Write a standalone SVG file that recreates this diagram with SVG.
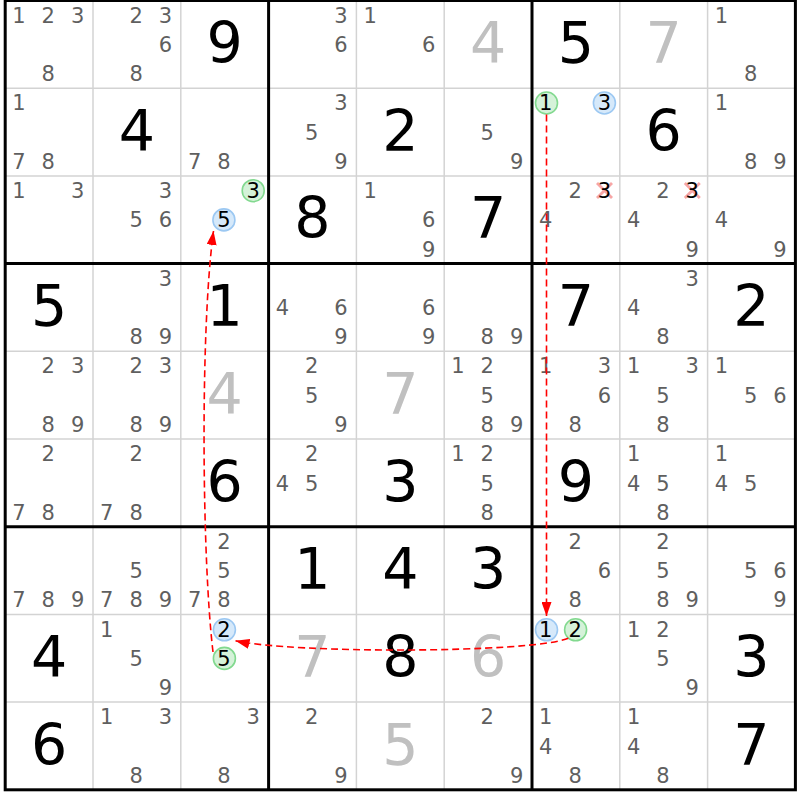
<svg xmlns="http://www.w3.org/2000/svg" width="800" height="800" viewBox="0 0 800 800">
<style>
.c{font-family:"DejaVu Sans",Verdana,sans-serif;font-size:21px;fill:#5f5f5f;text-anchor:middle}
.k{font-family:"DejaVu Sans",Verdana,sans-serif;font-size:21px;fill:#000;text-anchor:middle}
.b{font-family:"DejaVu Sans",Verdana,sans-serif;font-size:57px;fill:#000;text-anchor:middle}
.g{font-family:"DejaVu Sans",Verdana,sans-serif;font-size:57px;fill:#c0c0c0;text-anchor:middle}
.thin{stroke:#d3d3d3;stroke-width:1.5}
.thick{stroke:#000;stroke-width:3;fill:none}
.cg{fill:#d5f2d9;stroke:#82d98f;stroke-width:1.6}
.cb{fill:#d6e9fa;stroke:#9cc8f2;stroke-width:1.6}
.x{stroke:#f7a6a6;stroke-width:2.8}
.link{fill:none;stroke:#f00;stroke-width:1.6;stroke-dasharray:7 4;marker-end:url(#ah)}
</style>
<defs>
<marker id="ah" markerUnits="userSpaceOnUse" markerWidth="14" markerHeight="10" refX="14" refY="5" orient="auto">
<path d="M0,0 L14,5 L0,10 z" fill="#f00"/>
</marker>
</defs>
<rect x="0" y="0" width="800" height="800" fill="#fff"/>
<g id="grid">
<line class="thin" x1="93.0" y1="0.5" x2="93.0" y2="789.8"/>
<line class="thin" x1="180.8" y1="0.5" x2="180.8" y2="789.8"/>
<line class="thin" x1="356.4" y1="0.5" x2="356.4" y2="789.8"/>
<line class="thin" x1="444.2" y1="0.5" x2="444.2" y2="789.8"/>
<line class="thin" x1="619.8" y1="0.5" x2="619.8" y2="789.8"/>
<line class="thin" x1="707.6" y1="0.5" x2="707.6" y2="789.8"/>
<line class="thin" x1="5.2" y1="88.2" x2="795.4" y2="88.2"/>
<line class="thin" x1="5.2" y1="175.9" x2="795.4" y2="175.9"/>
<line class="thin" x1="5.2" y1="351.3" x2="795.4" y2="351.3"/>
<line class="thin" x1="5.2" y1="439.0" x2="795.4" y2="439.0"/>
<line class="thin" x1="5.2" y1="614.4" x2="795.4" y2="614.4"/>
<line class="thin" x1="5.2" y1="702.1" x2="795.4" y2="702.1"/>
<line class="thick" x1="268.6" y1="0.5" x2="268.6" y2="789.8"/>
<line class="thick" x1="532.0" y1="0.5" x2="532.0" y2="789.8"/>
<line class="thick" x1="5.2" y1="263.6" x2="795.4" y2="263.6"/>
<line class="thick" x1="5.2" y1="526.7" x2="795.4" y2="526.7"/>
<rect class="thick" x="5.2" y="0.5" width="790.2" height="789.3"/>
</g>

<!-- row 0 -->
<g id="r0c0" transform="translate(5.2,0.5)"><text class="c" x="13.8" y="22.2">1</text><text class="c" x="43.1" y="22.2">2</text><text class="c" x="72.4" y="22.2">3</text><text class="c" x="43.1" y="80.7">8</text></g>
<g id="r0c1" transform="translate(93,0.5)"><text class="c" x="43.1" y="22.2">2</text><text class="c" x="72.4" y="22.2">3</text><text class="c" x="72.4" y="51.5">6</text><text class="c" x="43.1" y="80.7">8</text></g>
<g id="r0c2" transform="translate(180.8,0.5)"><text class="b" x="43.9" y="62.5">9</text></g>
<g id="r0c3" transform="translate(268.6,0.5)"><text class="c" x="72.4" y="22.2">3</text><text class="c" x="72.4" y="51.5">6</text></g>
<g id="r0c4" transform="translate(356.4,0.5)"><text class="c" x="13.8" y="22.2">1</text><text class="c" x="72.4" y="51.5">6</text></g>
<g id="r0c5" transform="translate(444.2,0.5)"><text class="g" x="43.9" y="62.5">4</text></g>
<g id="r0c6" transform="translate(532,0.5)"><text class="b" x="43.9" y="62.5">5</text></g>
<g id="r0c7" transform="translate(619.8,0.5)"><text class="g" x="43.9" y="62.5">7</text></g>
<g id="r0c8" transform="translate(707.6,0.5)"><text class="c" x="13.8" y="22.2">1</text><text class="c" x="43.1" y="80.7">8</text></g>

<!-- row 1 -->
<g id="r1c0" transform="translate(5.2,88.2)"><text class="c" x="13.8" y="22.2">1</text><text class="c" x="13.8" y="80.7">7</text><text class="c" x="43.1" y="80.7">8</text></g>
<g id="r1c1" transform="translate(93,88.2)"><text class="b" x="43.9" y="62.5">4</text></g>
<g id="r1c2" transform="translate(180.8,88.2)"><text class="c" x="13.8" y="80.7">7</text><text class="c" x="43.1" y="80.7">8</text></g>
<g id="r1c3" transform="translate(268.6,88.2)"><text class="c" x="72.4" y="22.2">3</text><text class="c" x="43.1" y="51.5">5</text><text class="c" x="72.4" y="80.7">9</text></g>
<g id="r1c4" transform="translate(356.4,88.2)"><text class="b" x="43.9" y="62.5">2</text></g>
<g id="r1c5" transform="translate(444.2,88.2)"><text class="c" x="43.1" y="51.5">5</text><text class="c" x="72.4" y="80.7">9</text></g>
<g id="r1c6" transform="translate(532,88.2)"><circle class="cg" cx="14.5" cy="14.8" r="11"/><text class="k" x="13.8" y="22.2">1</text><circle class="cb" cx="72.4" cy="14.8" r="11"/><text class="k" x="72.4" y="22.2">3</text></g>
<g id="r1c7" transform="translate(619.8,88.2)"><text class="b" x="43.9" y="62.5">6</text></g>
<g id="r1c8" transform="translate(707.6,88.2)"><text class="c" x="13.8" y="22.2">1</text><text class="c" x="43.1" y="80.7">8</text><text class="c" x="72.4" y="80.7">9</text></g>

<!-- row 2 -->
<g id="r2c0" transform="translate(5.2,175.9)"><text class="c" x="13.8" y="22.2">1</text><text class="c" x="72.4" y="22.2">3</text></g>
<g id="r2c1" transform="translate(93,175.9)"><text class="c" x="72.4" y="22.2">3</text><text class="c" x="43.1" y="51.5">5</text><text class="c" x="72.4" y="51.5">6</text></g>
<g id="r2c2" transform="translate(180.8,175.9)"><circle class="cg" cx="72.4" cy="14.8" r="11"/><text class="k" x="72.4" y="22.2">3</text><circle class="cb" cx="43.1" cy="44" r="11"/><text class="k" x="43.1" y="51.5">5</text></g>
<g id="r2c3" transform="translate(268.6,175.9)"><text class="b" x="43.9" y="62.5">8</text></g>
<g id="r2c4" transform="translate(356.4,175.9)"><text class="c" x="13.8" y="22.2">1</text><text class="c" x="72.4" y="51.5">6</text><text class="c" x="72.4" y="80.7">9</text></g>
<g id="r2c5" transform="translate(444.2,175.9)"><text class="b" x="43.9" y="62.5">7</text></g>
<g id="r2c6" transform="translate(532,175.9)"><text class="c" x="43.1" y="22.2">2</text><line class="x" x1="65" y1="7" x2="80" y2="22"/><line class="x" x1="80" y1="7" x2="65" y2="22"/><text class="k" x="72.4" y="22.2">3</text><text class="c" x="13.8" y="51.5">4</text></g>
<g id="r2c7" transform="translate(619.8,175.9)"><text class="c" x="43.1" y="22.2">2</text><line class="x" x1="65" y1="7" x2="80" y2="22"/><line class="x" x1="80" y1="7" x2="65" y2="22"/><text class="k" x="72.4" y="22.2">3</text><text class="c" x="13.8" y="51.5">4</text><text class="c" x="72.4" y="80.7">9</text></g>
<g id="r2c8" transform="translate(707.6,175.9)"><text class="c" x="13.8" y="51.5">4</text><text class="c" x="72.4" y="80.7">9</text></g>

<!-- row 3 -->
<g id="r3c0" transform="translate(5.2,263.6)"><text class="b" x="43.9" y="62.5">5</text></g>
<g id="r3c1" transform="translate(93,263.6)"><text class="c" x="72.4" y="22.2">3</text><text class="c" x="43.1" y="80.7">8</text><text class="c" x="72.4" y="80.7">9</text></g>
<g id="r3c2" transform="translate(180.8,263.6)"><text class="b" x="43.9" y="62.5">1</text></g>
<g id="r3c3" transform="translate(268.6,263.6)"><text class="c" x="13.8" y="51.5">4</text><text class="c" x="72.4" y="51.5">6</text><text class="c" x="72.4" y="80.7">9</text></g>
<g id="r3c4" transform="translate(356.4,263.6)"><text class="c" x="72.4" y="51.5">6</text><text class="c" x="72.4" y="80.7">9</text></g>
<g id="r3c5" transform="translate(444.2,263.6)"><text class="c" x="43.1" y="80.7">8</text><text class="c" x="72.4" y="80.7">9</text></g>
<g id="r3c6" transform="translate(532,263.6)"><text class="b" x="43.9" y="62.5">7</text></g>
<g id="r3c7" transform="translate(619.8,263.6)"><text class="c" x="72.4" y="22.2">3</text><text class="c" x="13.8" y="51.5">4</text><text class="c" x="43.1" y="80.7">8</text></g>
<g id="r3c8" transform="translate(707.6,263.6)"><text class="b" x="43.9" y="62.5">2</text></g>

<!-- row 4 -->
<g id="r4c0" transform="translate(5.2,351.3)"><text class="c" x="43.1" y="22.2">2</text><text class="c" x="72.4" y="22.2">3</text><text class="c" x="43.1" y="80.7">8</text><text class="c" x="72.4" y="80.7">9</text></g>
<g id="r4c1" transform="translate(93,351.3)"><text class="c" x="43.1" y="22.2">2</text><text class="c" x="72.4" y="22.2">3</text><text class="c" x="43.1" y="80.7">8</text><text class="c" x="72.4" y="80.7">9</text></g>
<g id="r4c2" transform="translate(180.8,351.3)"><text class="g" x="43.9" y="62.5">4</text></g>
<g id="r4c3" transform="translate(268.6,351.3)"><text class="c" x="43.1" y="22.2">2</text><text class="c" x="43.1" y="51.5">5</text><text class="c" x="72.4" y="80.7">9</text></g>
<g id="r4c4" transform="translate(356.4,351.3)"><text class="g" x="43.9" y="62.5">7</text></g>
<g id="r4c5" transform="translate(444.2,351.3)"><text class="c" x="13.8" y="22.2">1</text><text class="c" x="43.1" y="22.2">2</text><text class="c" x="43.1" y="51.5">5</text><text class="c" x="43.1" y="80.7">8</text><text class="c" x="72.4" y="80.7">9</text></g>
<g id="r4c6" transform="translate(532,351.3)"><text class="c" x="13.8" y="22.2">1</text><text class="c" x="72.4" y="22.2">3</text><text class="c" x="72.4" y="51.5">6</text><text class="c" x="43.1" y="80.7">8</text></g>
<g id="r4c7" transform="translate(619.8,351.3)"><text class="c" x="13.8" y="22.2">1</text><text class="c" x="72.4" y="22.2">3</text><text class="c" x="43.1" y="51.5">5</text><text class="c" x="43.1" y="80.7">8</text></g>
<g id="r4c8" transform="translate(707.6,351.3)"><text class="c" x="13.8" y="22.2">1</text><text class="c" x="43.1" y="51.5">5</text><text class="c" x="72.4" y="51.5">6</text></g>

<!-- row 5 -->
<g id="r5c0" transform="translate(5.2,439)"><text class="c" x="43.1" y="22.2">2</text><text class="c" x="13.8" y="80.7">7</text><text class="c" x="43.1" y="80.7">8</text></g>
<g id="r5c1" transform="translate(93,439)"><text class="c" x="43.1" y="22.2">2</text><text class="c" x="13.8" y="80.7">7</text><text class="c" x="43.1" y="80.7">8</text></g>
<g id="r5c2" transform="translate(180.8,439)"><text class="b" x="43.9" y="62.5">6</text></g>
<g id="r5c3" transform="translate(268.6,439)"><text class="c" x="43.1" y="22.2">2</text><text class="c" x="13.8" y="51.5">4</text><text class="c" x="43.1" y="51.5">5</text></g>
<g id="r5c4" transform="translate(356.4,439)"><text class="b" x="43.9" y="62.5">3</text></g>
<g id="r5c5" transform="translate(444.2,439)"><text class="c" x="13.8" y="22.2">1</text><text class="c" x="43.1" y="22.2">2</text><text class="c" x="43.1" y="51.5">5</text><text class="c" x="43.1" y="80.7">8</text></g>
<g id="r5c6" transform="translate(532,439)"><text class="b" x="43.9" y="62.5">9</text></g>
<g id="r5c7" transform="translate(619.8,439)"><text class="c" x="13.8" y="22.2">1</text><text class="c" x="13.8" y="51.5">4</text><text class="c" x="43.1" y="51.5">5</text><text class="c" x="43.1" y="80.7">8</text></g>
<g id="r5c8" transform="translate(707.6,439)"><text class="c" x="13.8" y="22.2">1</text><text class="c" x="13.8" y="51.5">4</text><text class="c" x="43.1" y="51.5">5</text></g>

<!-- row 6 -->
<g id="r6c0" transform="translate(5.2,526.7)"><text class="c" x="13.8" y="80.7">7</text><text class="c" x="43.1" y="80.7">8</text><text class="c" x="72.4" y="80.7">9</text></g>
<g id="r6c1" transform="translate(93,526.7)"><text class="c" x="43.1" y="51.5">5</text><text class="c" x="13.8" y="80.7">7</text><text class="c" x="43.1" y="80.7">8</text><text class="c" x="72.4" y="80.7">9</text></g>
<g id="r6c2" transform="translate(180.8,526.7)"><text class="c" x="43.1" y="22.2">2</text><text class="c" x="43.1" y="51.5">5</text><text class="c" x="13.8" y="80.7">7</text><text class="c" x="43.1" y="80.7">8</text></g>
<g id="r6c3" transform="translate(268.6,526.7)"><text class="b" x="43.9" y="62.5">1</text></g>
<g id="r6c4" transform="translate(356.4,526.7)"><text class="b" x="43.9" y="62.5">4</text></g>
<g id="r6c5" transform="translate(444.2,526.7)"><text class="b" x="43.9" y="62.5">3</text></g>
<g id="r6c6" transform="translate(532,526.7)"><text class="c" x="43.1" y="22.2">2</text><text class="c" x="72.4" y="51.5">6</text><text class="c" x="43.1" y="80.7">8</text></g>
<g id="r6c7" transform="translate(619.8,526.7)"><text class="c" x="43.1" y="22.2">2</text><text class="c" x="43.1" y="51.5">5</text><text class="c" x="43.1" y="80.7">8</text><text class="c" x="72.4" y="80.7">9</text></g>
<g id="r6c8" transform="translate(707.6,526.7)"><text class="c" x="43.1" y="51.5">5</text><text class="c" x="72.4" y="51.5">6</text><text class="c" x="72.4" y="80.7">9</text></g>

<!-- row 7 -->
<g id="r7c0" transform="translate(5.2,614.4)"><text class="b" x="43.9" y="62.5">4</text></g>
<g id="r7c1" transform="translate(93,614.4)"><text class="c" x="13.8" y="22.2">1</text><text class="c" x="43.1" y="51.5">5</text><text class="c" x="72.4" y="80.7">9</text></g>
<g id="r7c2" transform="translate(180.8,614.4)"><circle class="cb" cx="43.6" cy="15.4" r="11"/><text class="k" x="43.1" y="22.7">2</text><circle class="cg" cx="43.6" cy="44" r="11"/><text class="k" x="43.1" y="51.5">5</text></g>
<g id="r7c3" transform="translate(268.6,614.4)"><text class="g" x="43.9" y="62.5">7</text></g>
<g id="r7c4" transform="translate(356.4,614.4)"><text class="b" x="43.9" y="62.5">8</text></g>
<g id="r7c5" transform="translate(444.2,614.4)"><text class="g" x="43.9" y="62.5">6</text></g>
<g id="r7c6" transform="translate(532,614.4)"><circle class="cb" cx="14.5" cy="15.4" r="11"/><text class="k" x="13.8" y="22.7">1</text><circle class="cg" cx="43.6" cy="15.4" r="11"/><text class="k" x="43.1" y="22.7">2</text></g>
<g id="r7c7" transform="translate(619.8,614.4)"><text class="c" x="13.8" y="22.2">1</text><text class="c" x="43.1" y="22.2">2</text><text class="c" x="43.1" y="51.5">5</text><text class="c" x="72.4" y="80.7">9</text></g>
<g id="r7c8" transform="translate(707.6,614.4)"><text class="b" x="43.9" y="62.5">3</text></g>

<!-- row 8 -->
<g id="r8c0" transform="translate(5.2,702.1)"><text class="b" x="43.9" y="62.5">6</text></g>
<g id="r8c1" transform="translate(93,702.1)"><text class="c" x="13.8" y="22.2">1</text><text class="c" x="72.4" y="22.2">3</text><text class="c" x="43.1" y="80.7">8</text></g>
<g id="r8c2" transform="translate(180.8,702.1)"><text class="c" x="72.4" y="22.2">3</text><text class="c" x="43.1" y="80.7">8</text></g>
<g id="r8c3" transform="translate(268.6,702.1)"><text class="c" x="43.1" y="22.2">2</text><text class="c" x="72.4" y="80.7">9</text></g>
<g id="r8c4" transform="translate(356.4,702.1)"><text class="g" x="43.9" y="62.5">5</text></g>
<g id="r8c5" transform="translate(444.2,702.1)"><text class="c" x="43.1" y="22.2">2</text><text class="c" x="72.4" y="80.7">9</text></g>
<g id="r8c6" transform="translate(532,702.1)"><text class="c" x="13.8" y="22.2">1</text><text class="c" x="13.8" y="51.5">4</text><text class="c" x="43.1" y="80.7">8</text></g>
<g id="r8c7" transform="translate(619.8,702.1)"><text class="c" x="13.8" y="22.2">1</text><text class="c" x="13.8" y="51.5">4</text><text class="c" x="43.1" y="80.7">8</text></g>
<g id="r8c8" transform="translate(707.6,702.1)"><text class="b" x="43.9" y="62.5">7</text></g>

<g id="connectors">
<path class="link" d="M546.5,114.5 L546.5,616"/>
<path class="link" d="M568.3,638.3 C530,653.5 290,653.5 235.5,640.7"/>
<path class="link" d="M213,652 C202,560 200,330 213.5,231"/>
</g>
</svg>
